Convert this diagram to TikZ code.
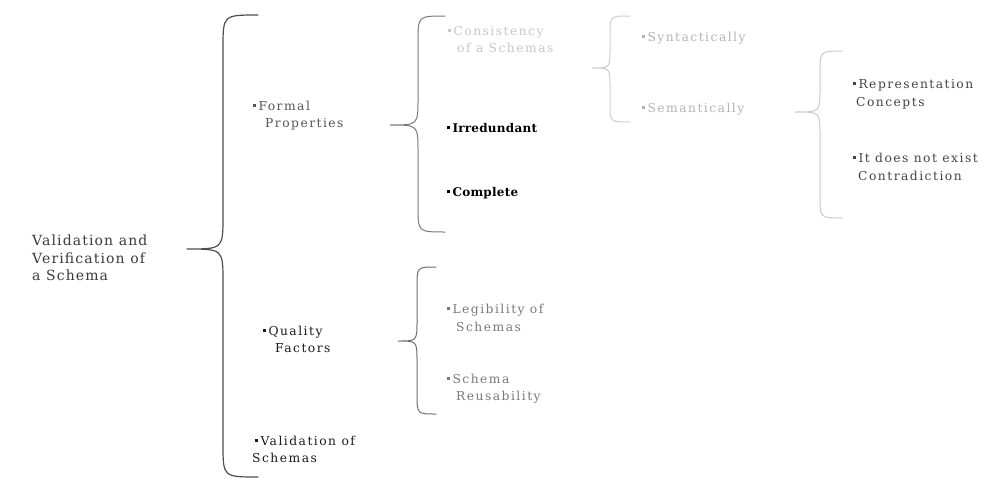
\documentclass[tikz,border=0pt]{standalone}
\usepackage{fontspec}
\newfontfamily\labfont[LetterSpace=12]{DejaVu Serif}
\newfontfamily\mainfont[LetterSpace=8]{DejaVu Serif}
\newfontfamily\boldlab[LetterSpace=2]{DejaVu Serif}
\definecolor{cmain}{HTML}{3A3A3A}
\definecolor{cformal}{HTML}{555555}
\definecolor{cblack}{HTML}{1A1A1A}
\definecolor{cpale}{HTML}{C8C8C8}
\definecolor{clight}{HTML}{B4B4B4}
\definecolor{cdark}{HTML}{444444}
\definecolor{cmid}{HTML}{7A7A7A}
\newcommand\bu{\raisebox{3pt}{\rule{2.8pt}{2.8pt}}\kern2.5pt}
\newcommand\drawcurly[8]{%
  \draw[#1] (#5,#6) .. controls (#4,#6) .. (#4,#6+#8) -- (#4,#3-#8)
    .. controls (#4,#3) .. (#2,#3) .. controls (#4,#3) .. (#4,#3+#8)
    -- (#4,#7-#8) .. controls (#4,#7) .. (#5,#7);}
\tikzset{
  lbl/.style={anchor=base west, inner sep=0pt, font=\labfont\fontsize{12.3}{12.3}\selectfont},
  boldlbl/.style={anchor=base west, inner sep=0pt, font=\boldlab\bfseries\fontsize{12}{12}\selectfont, text=black},
  mainlbl/.style={anchor=base west, inner sep=0pt, font=\mainfont\fontsize{14}{14}\selectfont, text=cmain},
  bracestyle/.style={line width=1.2pt, line cap=round, line join=round}
}
\begin{document}
\begin{tikzpicture}[x=1pt,y=-1pt]
\useasboundingbox[fill=white] (0,0) rectangle (985,479);
% braces
\drawcurly{bracestyle, draw=cmain!90}{187}{249}{223}{258}{15}{477}{33}
\drawcurly{bracestyle, draw=cmid, line width=1pt}{390}{125}{418}{445}{16}{232}{26}
\drawcurly{bracestyle, draw=cpale!90, line width=1pt}{592}{68}{610}{630}{16}{122}{18}
\drawcurly{bracestyle, draw=cpale, line width=1pt}{795}{112}{820}{842}{51}{218}{22}
\drawcurly{bracestyle, draw=cmid!90!black, line width=1pt}{398}{341}{417}{436}{267}{414}{20}
% root
\node[mainlbl] (root1) at (32,245) {Validation and};
\node[mainlbl] (root2) at (32,263) {Verification of};
\node[mainlbl] (root3) at (32,280) {a Schema};
% level 1
\node[lbl, text=cformal] (fp1) at (253,110) {\bu Formal};
\node[lbl, text=cformal] (fp2) at (265,127) {Properties};
\node[lbl, text=cblack] (qf1) at (263,335) {\bu Quality};
\node[lbl, text=cblack] (qf2) at (275,352) {Factors};
\node[lbl, text=cblack] (vs1) at (255,445) {\bu Validation of};
\node[lbl, text=cblack] (vs2) at (252,462) {Schemas};
% level 2 formal
\node[lbl, text=cpale] (cs1) at (448,35) {\bu Consistency};
\node[lbl, text=cpale] (cs2) at (457,52) {of a Schemas};
\node[boldlbl] (irr) at (447,132) {\bu Irredundant};
\node[boldlbl] (cmp) at (447,196) {\bu Complete};
% level 3
\node[lbl, text=clight] (syn) at (642,41) {\bu Syntactically};
\node[lbl, text=clight] (sem) at (642,112) {\bu Semantically};
% level 4
\node[lbl, text=cdark] (rep1) at (853,88) {\bu Representation};
\node[lbl, text=cdark] (rep2) at (856,106) {Concepts};
\node[lbl, text=cdark] (con1) at (853,162) {\bu It does not exist};
\node[lbl, text=cdark] (con2) at (858,180) {Contradiction};
% quality children
\node[lbl, text=cmid] (leg1) at (447,313) {\bu Legibility of};
\node[lbl, text=cmid] (leg2) at (456,331) {Schemas};
\node[lbl, text=cmid] (reu1) at (447,383) {\bu Schema};
\node[lbl, text=cmid] (reu2) at (456,400) {Reusability};
\end{tikzpicture}
\end{document}
